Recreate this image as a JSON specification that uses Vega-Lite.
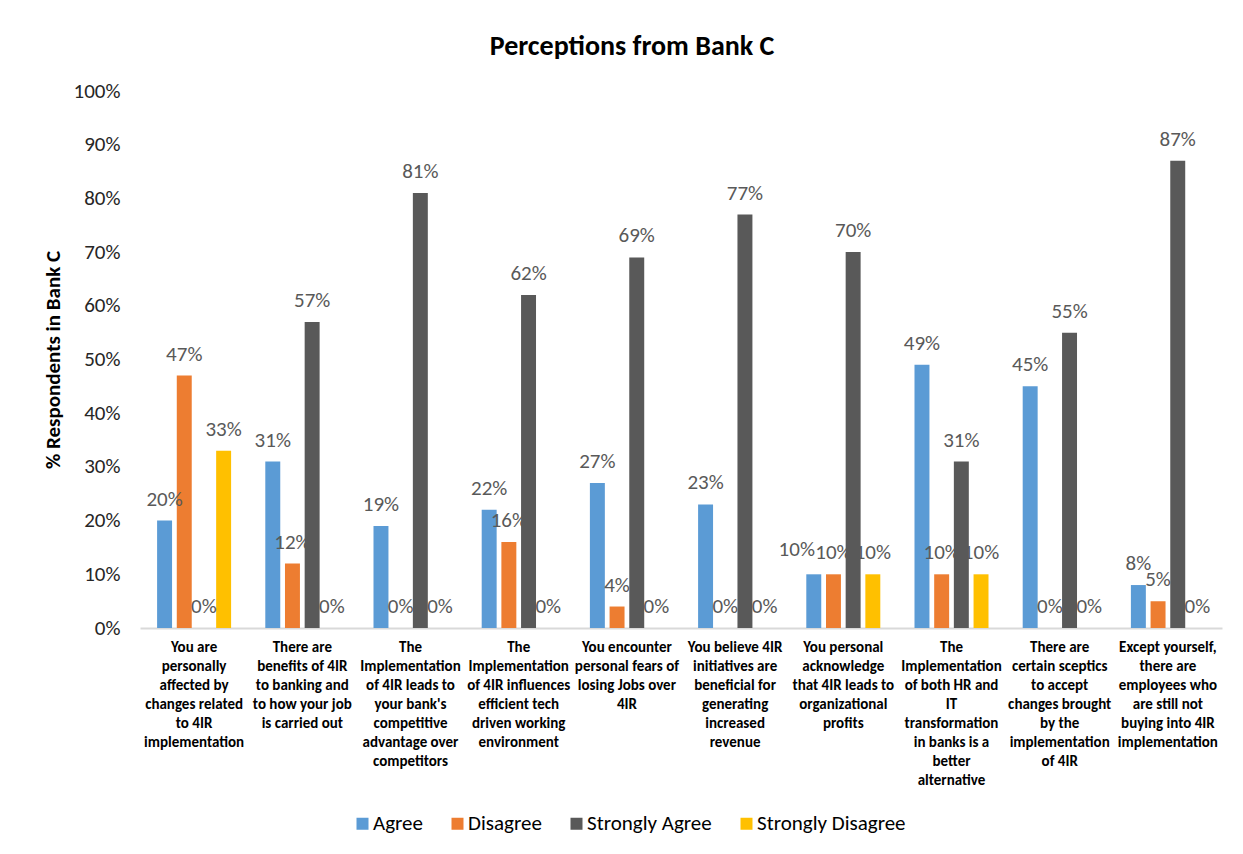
{
  "$schema": "https://vega.github.io/schema/vega-lite/v6.json",
  "autosize": {"type": "none"},
  "width": 1082,
  "height": 537,
  "padding": {"left": 140, "top": 91, "right": 21, "bottom": 226},
  "background": "white",
  "title": {
    "text": "Perceptions from Bank C",
    "font": "Carlito, Lato",
    "fontSize": 28,
    "fontWeight": "bold",
    "color": "#000000",
    "anchor": "middle",
    "frame": "bounds",
    "offset": 19
  },
  "config": {
    "view": {"stroke": null},
    "font": "Carlito, Lato"
  },
  "data": {
    "values": [
      {"q": "You are|personally|affected by|changes related|to 4IR|implementation", "s": "Agree", "v": 0.20},
      {"q": "You are|personally|affected by|changes related|to 4IR|implementation", "s": "Disagree", "v": 0.47},
      {"q": "You are|personally|affected by|changes related|to 4IR|implementation", "s": "Strongly Agree", "v": 0.0},
      {"q": "You are|personally|affected by|changes related|to 4IR|implementation", "s": "Strongly Disagree", "v": 0.33},
      {"q": "There are|benefits of 4IR|to banking and|to how your job|is carried out", "s": "Agree", "v": 0.31},
      {"q": "There are|benefits of 4IR|to banking and|to how your job|is carried out", "s": "Disagree", "v": 0.12},
      {"q": "There are|benefits of 4IR|to banking and|to how your job|is carried out", "s": "Strongly Agree", "v": 0.57},
      {"q": "There are|benefits of 4IR|to banking and|to how your job|is carried out", "s": "Strongly Disagree", "v": 0.0},
      {"q": "The|Implementation|of 4IR leads to|your bank's|competitive|advantage over|competitors", "s": "Agree", "v": 0.19},
      {"q": "The|Implementation|of 4IR leads to|your bank's|competitive|advantage over|competitors", "s": "Disagree", "v": 0.0},
      {"q": "The|Implementation|of 4IR leads to|your bank's|competitive|advantage over|competitors", "s": "Strongly Agree", "v": 0.81},
      {"q": "The|Implementation|of 4IR leads to|your bank's|competitive|advantage over|competitors", "s": "Strongly Disagree", "v": 0.0},
      {"q": "The|Implementation|of 4IR influences|efficient tech|driven working|environment", "s": "Agree", "v": 0.22},
      {"q": "The|Implementation|of 4IR influences|efficient tech|driven working|environment", "s": "Disagree", "v": 0.16},
      {"q": "The|Implementation|of 4IR influences|efficient tech|driven working|environment", "s": "Strongly Agree", "v": 0.62},
      {"q": "The|Implementation|of 4IR influences|efficient tech|driven working|environment", "s": "Strongly Disagree", "v": 0.0},
      {"q": "You encounter|personal fears of|losing Jobs over|4IR", "s": "Agree", "v": 0.27},
      {"q": "You encounter|personal fears of|losing Jobs over|4IR", "s": "Disagree", "v": 0.04},
      {"q": "You encounter|personal fears of|losing Jobs over|4IR", "s": "Strongly Agree", "v": 0.69},
      {"q": "You encounter|personal fears of|losing Jobs over|4IR", "s": "Strongly Disagree", "v": 0.0},
      {"q": "You believe 4IR|initiatives are|beneficial for|generating|increased|revenue", "s": "Agree", "v": 0.23},
      {"q": "You believe 4IR|initiatives are|beneficial for|generating|increased|revenue", "s": "Disagree", "v": 0.0},
      {"q": "You believe 4IR|initiatives are|beneficial for|generating|increased|revenue", "s": "Strongly Agree", "v": 0.77},
      {"q": "You believe 4IR|initiatives are|beneficial for|generating|increased|revenue", "s": "Strongly Disagree", "v": 0.0},
      {"q": "You personal|acknowledge|that 4IR leads to|organizational|profits", "s": "Agree", "v": 0.10},
      {"q": "You personal|acknowledge|that 4IR leads to|organizational|profits", "s": "Disagree", "v": 0.10},
      {"q": "You personal|acknowledge|that 4IR leads to|organizational|profits", "s": "Strongly Agree", "v": 0.70},
      {"q": "You personal|acknowledge|that 4IR leads to|organizational|profits", "s": "Strongly Disagree", "v": 0.10},
      {"q": "The|Implementation|of both HR and|IT|transformation|in banks is a|better|alternative", "s": "Agree", "v": 0.49},
      {"q": "The|Implementation|of both HR and|IT|transformation|in banks is a|better|alternative", "s": "Disagree", "v": 0.10},
      {"q": "The|Implementation|of both HR and|IT|transformation|in banks is a|better|alternative", "s": "Strongly Agree", "v": 0.31},
      {"q": "The|Implementation|of both HR and|IT|transformation|in banks is a|better|alternative", "s": "Strongly Disagree", "v": 0.10},
      {"q": "There are|certain sceptics|to accept|changes brought|by the|implementation|of 4IR", "s": "Agree", "v": 0.45},
      {"q": "There are|certain sceptics|to accept|changes brought|by the|implementation|of 4IR", "s": "Disagree", "v": 0.0},
      {"q": "There are|certain sceptics|to accept|changes brought|by the|implementation|of 4IR", "s": "Strongly Agree", "v": 0.55},
      {"q": "There are|certain sceptics|to accept|changes brought|by the|implementation|of 4IR", "s": "Strongly Disagree", "v": 0.0},
      {"q": "Except yourself,|there are|employees who|are still not|buying into 4IR|implementation", "s": "Agree", "v": 0.08},
      {"q": "Except yourself,|there are|employees who|are still not|buying into 4IR|implementation", "s": "Disagree", "v": 0.05},
      {"q": "Except yourself,|there are|employees who|are still not|buying into 4IR|implementation", "s": "Strongly Agree", "v": 0.87},
      {"q": "Except yourself,|there are|employees who|are still not|buying into 4IR|implementation", "s": "Strongly Disagree", "v": 0.0}
    ]
  },
  "encoding": {
    "x": {
      "field": "q",
      "type": "nominal",
      "sort": null,
      "scale": {"paddingInner": 0.316, "paddingOuter": 0.158},
      "axis": {
        "title": null,
        "labelExpr": "split(datum.label, '|')",
        "labelAngle": 0,
        "labelFontSize": 15,
        "labelFontWeight": "bold",
        "labelColor": "#000000",
        "labelLineHeight": 19,
        "labelBaseline": "top",
        "labelPadding": 11,
        "labelLimit": 200,
        "ticks": false,
        "domainColor": "#d9d9d9",
        "domainWidth": 2,
        "grid": false
      }
    },
    "xOffset": {
      "field": "s",
      "type": "nominal",
      "sort": ["Agree", "Disagree", "Strongly Agree", "Strongly Disagree"],
      "scale": {"paddingInner": 0.24, "paddingOuter": 0}
    },
    "y": {
      "field": "v",
      "type": "quantitative",
      "scale": {"domain": [0, 1]},
      "axis": {
        "title": "% Respondents in Bank C",
        "titleFontSize": 21,
        "titleFontWeight": "bold",
        "titleColor": "#000000",
        "titlePadding": 10,
        "format": ".0%",
        "values": [0, 0.1, 0.2, 0.3, 0.4, 0.5, 0.6, 0.7, 0.8, 0.9, 1.0],
        "labelFontSize": 21,
        "labelColor": "#262626",
        "labelPadding": 20,
        "ticks": false,
        "domain": false,
        "grid": false
      }
    }
  },
  "layer": [
    {
      "mark": {"type": "bar"},
      "encoding": {
        "color": {
          "field": "s",
          "type": "nominal",
          "sort": ["Agree", "Disagree", "Strongly Agree", "Strongly Disagree"],
          "scale": {
            "domain": ["Agree", "Disagree", "Strongly Agree", "Strongly Disagree"],
            "range": ["#5B9BD5", "#ED7D31", "#595959", "#FFC000"]
          },
          "legend": {
            "title": null,
            "orient": "none",
            "direction": "horizontal",
            "legendX": 212,
            "legendY": 722,
            "symbolType": "square",
            "symbolSize": 144,
            "symbolStrokeWidth": 0,
            "labelFontSize": 21,
            "labelColor": "#000000",
            "labelOffset": 0,
            "columnPadding": 24
          }
        }
      }
    },
    {
      "transform": [{"filter": "!(datum.s == 'Agree' && indexof(datum.q, 'You personal') == 0)"}],
      "mark": {"type": "text", "baseline": "middle", "dy": -21, "fontSize": 21, "color": "#595959"},
      "encoding": {
        "text": {"field": "v", "type": "quantitative", "format": ".0%"}
      }
    },
    {
      "transform": [{"filter": "datum.s == 'Agree' && indexof(datum.q, 'You personal') == 0"}],
      "mark": {"type": "text", "baseline": "middle", "dx": -17, "dy": -24, "fontSize": 21, "color": "#595959"},
      "encoding": {
        "text": {"field": "v", "type": "quantitative", "format": ".0%"}
      }
    }
  ]
}
